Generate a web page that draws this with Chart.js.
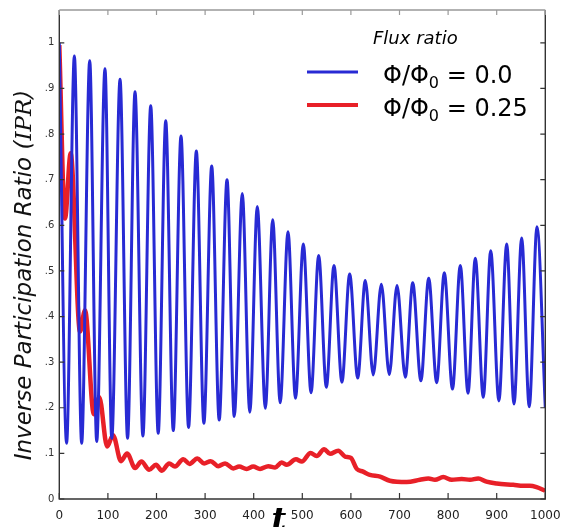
<!DOCTYPE html>
<html>
<head>
<meta charset="utf-8">
<script src="https://cdn.jsdelivr.net/npm/chart.js@4/dist/chart.umd.min.js"></script>
<style>
  html, body { margin: 0; padding: 0; background: #fff; }
  canvas { display: block; }
</style>
</head>
<body>
<canvas id="iprChart" width="565" height="527"></canvas>
<script>
// time axis and ticks
const xTickValues = [0, 100, 200, 300, 400, 500, 600, 700, 800, 900, 1000];
const xTickLabels = ["0", "100", "200", "300", "400", "500", "600", "700", "800", "900", "1000"];
const yTickValues = [0, 0.1, 0.2, 0.3, 0.4, 0.5, 0.6, 0.7, 0.8, 0.9, 1];
const yTickLabels = ["0", ".1", ".2", ".3", ".4", ".5", ".6", ".7", ".8", ".9", "1"];

const blueT = [0, 15, 31, 46, 62.6, 77, 94, 108, 125, 140.5, 155.8, 172, 188.1, 203.5, 219, 234.5,
  250.4, 266, 282, 297.5, 313.6, 329, 345.1, 360, 376.5, 392, 407.4, 424, 439.1, 454.5, 470.6, 486,
  502.1, 518, 533.7, 549.5, 565.2, 581.5, 597.5, 614, 629.6, 646, 662.6, 679, 694.9, 712, 727.2, 744,
  760.1, 776.5, 792.2, 809, 825.1, 841, 856, 872.4, 887.7, 904.5, 920.6, 935.6, 951.4, 967, 982.9, 1000];
const blueIPR = [1.0, 0.122, 0.971, 0.122, 0.961, 0.126, 0.943, 0.133, 0.920, 0.133, 0.893, 0.138, 0.862, 0.144, 0.829, 0.150,
  0.796, 0.157, 0.763, 0.166, 0.730, 0.173, 0.700, 0.181, 0.670, 0.190, 0.641, 0.199, 0.612, 0.211, 0.586, 0.221,
  0.559, 0.233, 0.534, 0.245, 0.512, 0.256, 0.493, 0.265, 0.479, 0.272, 0.471, 0.273, 0.468, 0.267, 0.474, 0.259,
  0.484, 0.255, 0.496, 0.241, 0.512, 0.232, 0.528, 0.223, 0.544, 0.215, 0.559, 0.208, 0.572, 0.202, 0.597, 0.200];

// flux ratio 0.25 (red)
const redT = [0, 11.7, 23.4, 42.6, 52.9, 71, 82.3, 98.5, 110.5, 127, 139.5, 156, 169, 185, 199, 211,
  226, 238, 255, 268, 284, 298, 311.5, 327, 341, 358, 370, 385.5, 399, 413, 430, 444,
  457.6, 468, 487, 499, 517, 529.6, 545, 557, 574, 588, 600, 612, 625, 639, 660, 680,
  715, 742, 759.5, 773, 790, 807.5, 828, 845, 862, 879, 900, 934, 955, 968, 982, 1000];
const redIPR = [0.995, 0.615, 0.758, 0.367, 0.414, 0.186, 0.223, 0.115, 0.140, 0.083, 0.100, 0.068, 0.082, 0.064, 0.075, 0.062,
  0.078, 0.071, 0.087, 0.077, 0.089, 0.078, 0.083, 0.072, 0.078, 0.067, 0.071, 0.066, 0.071, 0.066, 0.072, 0.069,
  0.080, 0.075, 0.087, 0.082, 0.101, 0.094, 0.109, 0.099, 0.106, 0.093, 0.090, 0.066, 0.060, 0.053, 0.049, 0.040,
  0.037, 0.042, 0.045, 0.042, 0.048, 0.042, 0.044, 0.042, 0.045, 0.038, 0.034, 0.031, 0.029, 0.029, 0.026, 0.018];

const fluxValues = ["0.0", "0.25"];
const seriesColors = ["rgb(40, 42, 212)", "rgb(232, 32, 40)"];

function toPoints(xs, ys) {
    return xs.map((x, i) => ({ x: x, y: ys[i] }));
}

// frame, inward ticks, legend and axis titles
const decorPlugin = {
    id: 'decor',
    afterDatasetsDraw(chart) {
        const ctx = chart.ctx;
        const area = chart.chartArea;
        const xs = chart.scales.x;
        const ys = chart.scales.y;
        ctx.save();

        // frame
        ctx.lineWidth = 1.4;
        ctx.strokeStyle = '#333';
        ctx.beginPath();
        ctx.moveTo(area.left, area.top);
        ctx.lineTo(area.left, area.bottom);
        ctx.lineTo(area.right, area.bottom);
        ctx.lineTo(area.right, area.top);
        ctx.stroke();
        ctx.strokeStyle = '#999';
        ctx.beginPath();
        ctx.moveTo(area.left, area.top);
        ctx.lineTo(area.right, area.top);
        ctx.stroke();

        // ticks pointing into the plot
        ctx.lineWidth = 1.2;
        ctx.strokeStyle = '#333';
        xTickValues.forEach(v => {
            const px = xs.getPixelForValue(v);
            ctx.beginPath();
            ctx.moveTo(px, area.bottom);
            ctx.lineTo(px, area.bottom - 6);
            ctx.stroke();
            ctx.strokeStyle = '#999';
            ctx.beginPath();
            ctx.moveTo(px, area.top);
            ctx.lineTo(px, area.top + 5);
            ctx.stroke();
            ctx.strokeStyle = '#333';
        });
        yTickValues.forEach(v => {
            const py = ys.getPixelForValue(v);
            ctx.beginPath();
            ctx.moveTo(area.left, py);
            ctx.lineTo(area.left + 5, py);
            ctx.moveTo(area.right, py);
            ctx.lineTo(area.right - 5, py);
            ctx.stroke();
        });

        // legend
        ctx.fillStyle = '#000';
        ctx.textBaseline = 'alphabetic';
        ctx.textAlign = 'left';
        ctx.font = 'italic 18px "DejaVu Sans"';
        ctx.fillText('Flux ratio', 373, 44);
        const rows = [77, 110];
        fluxValues.forEach((val, i) => {
            const y = rows[i];
            ctx.strokeStyle = chart.data.datasets[i].borderColor;
            ctx.lineWidth = i === 0 ? 3 : 4;
            ctx.beginPath();
            ctx.moveTo(307, y - 5);
            ctx.lineTo(358, y - 5);
            ctx.stroke();
            let x = 383;
            ctx.font = '24px "DejaVu Sans"';
            ctx.fillText('Φ/Φ', x, y + 6);
            x += ctx.measureText('Φ/Φ').width;
            ctx.font = '16px "DejaVu Sans"';
            ctx.fillText('0', x, y + 11);
            x += ctx.measureText('0').width;
            ctx.font = '24px "DejaVu Sans"';
            ctx.fillText(' = ' + val, x, y + 6);
        });

        // y axis title, mixed fonts
        const parts = [
            ['Inverse Participation Ratio (', 'italic 23px "DejaVu Sans"'],
            ['IPR', 'italic 23px "DejaVu Serif"'],
            [')', 'italic 23px "DejaVu Sans"']
        ];
        let total = 0;
        parts.forEach(p => { ctx.font = p[1]; total += ctx.measureText(p[0]).width; });
        ctx.translate(31, 275);
        ctx.rotate(-Math.PI / 2);
        ctx.fillStyle = '#111';
        let tx = -total / 2;
        parts.forEach(p => {
            ctx.font = p[1];
            ctx.fillText(p[0], tx, 0);
            tx += ctx.measureText(p[0]).width;
        });
        ctx.restore();

        // x axis title
        ctx.save();
        ctx.fillStyle = '#000';
        ctx.font = 'italic bold 32px "DejaVu Serif"';
        ctx.textAlign = 'center';
        ctx.fillText('t', 279, 530);
        ctx.restore();
    }
};

const ctx = document.getElementById('iprChart').getContext('2d');
const iprChart = new Chart(ctx, {
    type: 'line',
    data: {
        datasets: [{
            label: 'Φ/Φ₀ = ' + fluxValues[0],
            data: toPoints(blueT, blueIPR),
            borderColor: seriesColors[0],
            borderWidth: 3,
            pointRadius: 0,
            cubicInterpolationMode: 'monotone',
            fill: false
        }, {
            label: 'Φ/Φ₀ = ' + fluxValues[1],
            data: toPoints(redT, redIPR),
            borderColor: seriesColors[1],
            borderWidth: 4.5,
            pointRadius: 0,
            cubicInterpolationMode: 'monotone',
            fill: false
        }]
    },
    options: {
        responsive: false,
        animation: false,
        devicePixelRatio: 1,
        layout: { padding: { left: 0, top: 10, right: 19.7, bottom: 0 } },
        plugins: {
            legend: { display: false },
            tooltip: { enabled: false }
        },
        scales: {
            x: {
                type: 'linear',
                min: 0,
                max: 1000,
                grid: { display: false, drawTicks: false },
                border: { display: false },
                afterBuildTicks: scale => { scale.ticks = xTickValues.map(v => ({ value: v })); },
                afterFit: scale => {
                    scale.height = 28;
                    scale.paddingLeft = 0;
                    scale.paddingRight = 0;
                },
                ticks: {
                    padding: 10,
                    color: '#222',
                    font: { family: 'DejaVu Sans', size: 12 },
                    maxRotation: 0,
                    callback: (value) => xTickLabels[xTickValues.indexOf(value)]
                }
            },
            y: {
                type: 'linear',
                min: 0,
                max: 1.072,
                grid: { display: false, drawTicks: false },
                border: { display: false },
                afterBuildTicks: scale => { scale.ticks = yTickValues.map(v => ({ value: v })); },
                afterFit: scale => {
                    scale.width = 59.3;
                    scale.paddingTop = 0;
                    scale.paddingBottom = 0;
                },
                ticks: {
                    padding: 5,
                    color: '#333',
                    font: { family: 'DejaVu Sans', size: 10 },
                    callback: (value) => {
                        const i = yTickValues.findIndex(v => Math.abs(v - value) < 1e-6);
                        return yTickLabels[i];
                    }
                }
            }
        }
    },
    plugins: [decorPlugin]
});
</script>
</body>
</html>
